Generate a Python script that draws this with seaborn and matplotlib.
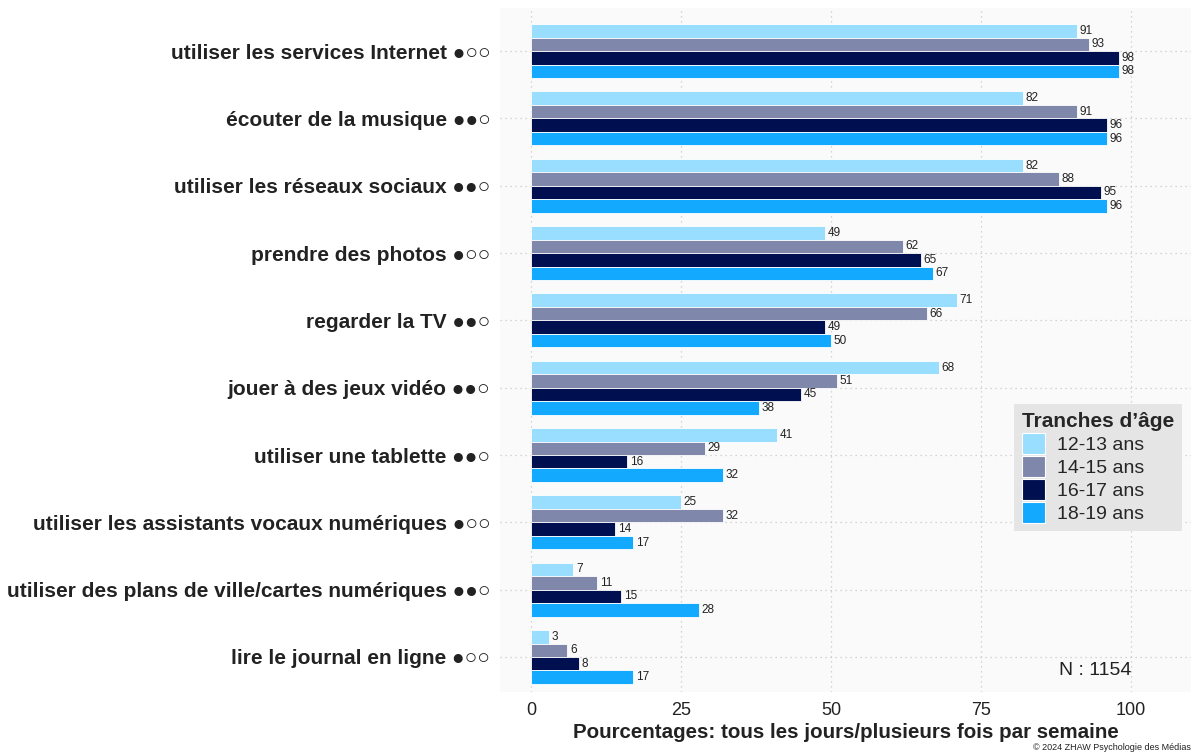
import numpy as np
import pandas as pd
import seaborn as sns
from matplotlib import pyplot as plt

activities = [
	"utiliser les services Internet ●○○",
	"écouter de la musique ●●○",
	"utiliser les réseaux sociaux ●●○",
	"prendre des photos ●○○",
	"regarder la TV ●●○",
	"jouer à des jeux vidéo ●●○",
	"utiliser une tablette ●●○",
	"utiliser les assistants vocaux numériques ●○○",
	"utiliser des plans de ville/cartes numériques ●●○",
	"lire le journal en ligne ●○○",
]
age_groups = ["12-13 ans", "14-15 ans", "16-17 ans", "18-19 ans"]
vals_12_13 = [91, 82, 82, 49, 71, 68, 41, 25, 7, 3]
vals_14_15 = [93, 91, 88, 62, 66, 51, 29, 32, 11, 6]
vals_16_17 = [98, 96, 95, 65, 49, 45, 16, 14, 15, 8]
vals_18_19 = [98, 96, 96, 67, 50, 38, 32, 17, 28, 17]
colors = ["#99DDFF", "#7F88AB", "#000F50", "#12A9FF"]

df = pd.DataFrame({
	"activity": activities * 4,
	"age": np.repeat(age_groups, len(activities)),
	"value": vals_12_13 + vals_14_15 + vals_16_17 + vals_18_19,
})

sns.set_style("white")
plt.rcParams["font.family"] = ["Liberation Sans", "DejaVu Sans"]
txt = "#222222"

fig = plt.figure(figsize=(11.91, 7.54), dpi=100)
ax = fig.add_axes([500 / 1191, 1 - 692 / 754, 691 / 1191, 684 / 754])
ax.set_facecolor("#FAFAFA")

sns.barplot(data=df, x="value", y="activity", hue="age", order=activities,
			hue_order=age_groups, palette=colors, orient="h", width=0.8,
			saturation=1, edgecolor="white", linewidth=0.6, ax=ax, zorder=3)

for cont in ax.containers:
	ax.bar_label(cont, padding=2, fontsize=8.5, color=txt)

ax.set_xlim(-5.2, 110)
ax.set_ylim(9.52, -0.64)
ax.set_xticks([0, 25, 50, 75, 100])
ax.tick_params(axis="x", labelsize=13, length=0, pad=7, colors=txt)
ax.tick_params(axis="y", labelsize=15, length=0, pad=7)
for lab in ax.get_yticklabels():
	lab.set_fontweight("bold")
	lab.set_color(txt)
ax.set_ylabel("")
ax.set_xlabel("Pourcentages: tous les jours/plusieurs fois par semaine",
			  fontsize=14.8, fontweight="bold", color=txt, labelpad=3)
ax.grid(True, linestyle=(0, (1, 3)), color="#C8C8C8", linewidth=0.9, zorder=0)
for s in ax.spines.values():
	s.set_visible(False)

leg = ax.legend(title="Tranches d’âge", loc="upper left",
				bbox_to_anchor=(1014 / 1191, 1 - 404 / 754),
				bbox_transform=fig.transFigure, borderaxespad=0, fontsize=14,
				title_fontproperties={"weight": "bold", "size": 15},
				frameon=True, facecolor="#E5E5E5", edgecolor="none",
				framealpha=1, fancybox=False, handlelength=1.2,
				handleheight=1.3, handletextpad=0.6, labelspacing=0.1,
				borderpad=0.4, alignment="left")
for h in leg.legend_handles:
	h.set_edgecolor("white")
	h.set_linewidth(0.8)

ax.text(100, 9.2, "N : 1154", ha="right", va="center", fontsize=14,
		color=txt)
fig.text(1.0, 0.002, "© 2024 ZHAW Psychologie des Médias", ha="right",
		 va="bottom", fontsize=6.5, color=txt)

fig.savefig("out.png", dpi=100)
